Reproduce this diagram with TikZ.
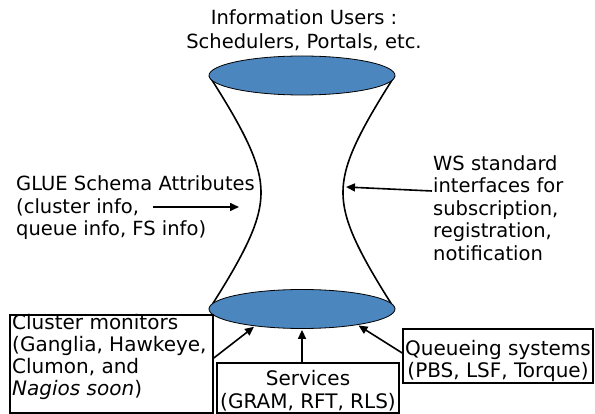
\documentclass[tikz,border=0pt]{standalone}
\usepackage{fontspec}
\setmainfont{DejaVu Sans}
\usetikzlibrary{arrows.meta,shapes.geometric}
\definecolor{ellblue}{RGB}{76,134,190}
\begin{document}
\begin{tikzpicture}[x=1pt,y=-1pt,
  txt/.style={inner sep=0pt,font=\fontsize{19.5}{22.5}\selectfont},
  btxt/.style={inner sep=0pt,font=\fontsize{20}{22}\selectfont},
  disc/.style={ellipse,draw=black,line width=0.8pt,fill=ellblue,minimum width=186pt,minimum height=39pt,inner sep=0pt},
  frame/.style={draw=black,line width=1.6pt,inner sep=0pt},
  arr/.style={line width=1.6pt,-{Triangle[length=9pt,width=8pt]}},
  side/.style={line width=1.6pt}]
\useasboundingbox (0,0) rectangle (595,414);
% hourglass sides
\draw[side] plot[domain=-1:1,samples=60,smooth] ({302-41*sqrt(1+(2.026*\x)^2)},{192.5+116.5*\x});
\draw[side] plot[domain=-1:1,samples=60,smooth] ({302+41*sqrt(1+(2.026*\x)^2)},{192.5+116.5*\x});
% discs
\node[disc] (top) at (302,75.5) {};
\node[disc] (bot) at (302,309) {};
% texts
\node[txt,align=center,font=\fontsize{19.5}{24.5}\selectfont] (users) at (304,30) {Information Users :\\Schedulers, Portals, etc.};
\node[txt,align=left,anchor=west] (glue) at (16,208) {GLUE Schema Attributes\\(cluster info,\\queue info, FS info)};
\node[txt,align=left,anchor=west] (ws) at (433,208) {WS standard\\interfaces for\\subscription,\\registration,\\notification};
% boxes
\node[frame,minimum width=203pt,minimum height=98pt] (cmbox) at (111.5,364) {};
\node[btxt,align=left,anchor=west] (cmtext) at (12,357) {Cluster monitors\\(Ganglia, Hawkeye,\\Clumon, and\\\textit{Nagios soon})};
\node[frame,minimum width=182pt,minimum height=50pt] (svbox) at (308,388) {};
\node[btxt,align=center,font=\fontsize{20}{23}\selectfont] (svtext) at (308,391) {Services\\(GRAM, RFT, RLS)};
\node[frame,minimum width=190pt,minimum height=54pt] (qsbox) at (498,356) {};
\node[btxt,align=center] (qstext) at (498,361) {Queueing systems\\(PBS, LSF, Torque)};
% arrows
\coordinate (ga) at (153,207);
\coordinate (gb) at (239,207);
\draw[arr] (ga) -- (gb);
\coordinate (wa) at (432,191);
\coordinate (wb) at (346,187);
\draw[arr] (wa) -- (wb);
\draw[arr,shorten >=1pt] ([yshift=6pt]cmbox.east) -- (bot.200);
\draw[arr,shorten >=1pt] (svbox.north -| bot.south) -- (bot.south);
\draw[arr,shorten >=1pt] ([yshift=3pt]qsbox.west) -- (bot.-16);
\end{tikzpicture}
\end{document}
